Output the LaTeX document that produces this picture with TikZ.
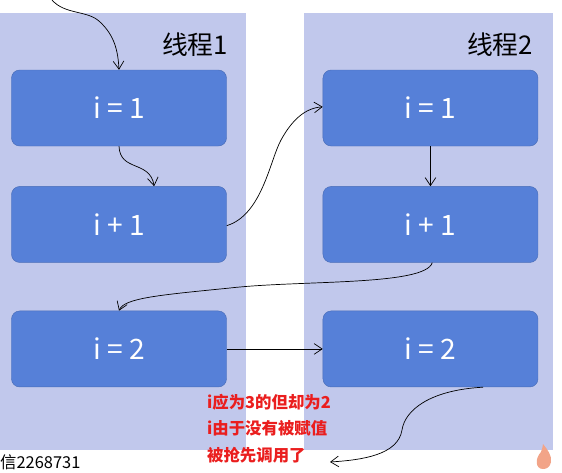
\documentclass[tikz,border=0pt]{standalone}
\usepackage{fontspec}
\newfontfamily\cjk{Noto Sans CJK SC}
\usetikzlibrary{positioning,arrows.meta}
\definecolor{panelbg}{RGB}{193,200,236}
\definecolor{boxblue}{RGB}{86,128,216}
\definecolor{notered}{RGB}{234,30,30}
\definecolor{flame}{RGB}{242,164,136}

\begin{document}
\begin{tikzpicture}[x=0.03cm, y=-0.03cm, node distance=1.2cm and 2.88cm, font=\cjk,
		stepbox/.style={rectangle, draw=boxblue!85!black, fill=boxblue, rounded corners=7pt, minimum width=6.45cm, minimum height=2.28cm, text=white, font=\cjk\fontsize{24}{28}\selectfont},
		flow/.style={-{Straight Barb[length=2.4mm, width=3.2mm]}, semithick, black}]
		\useasboundingbox (0,0) rectangle (562,472);
		\fill[panelbg] (0,13) rectangle (246,450);
		\fill[panelbg] (304,13) rectangle (553,450);
		\node[anchor=east, font=\cjk\fontsize{22}{26}\selectfont] (t1) at (232,45) {线程1};
		\node[anchor=east, font=\cjk\fontsize{22}{26}\selectfont] (t2) at (537,45) {线程2};
		\node[stepbox] (l1) at (119,108) {i = 1};
		\node[stepbox, below=of l1] (l2) {i + 1};
		\node[stepbox, below=1.44cm of l2] (l3) {i = 2};
		\node[stepbox, right=of l1] (r1) {i = 1};
		\node[stepbox, right=of l2] (r2) {i + 1};
		\node[stepbox, right=of l3] (r3) {i = 2};
		\coordinate (in) at (52,0);
		\coordinate (out) at (330,462);
		\draw[flow] (in) .. controls (65,15) and (88,10) .. (100,22) .. controls (114,35) and (118,50) .. (l1.north);
		\draw[flow] (l1.south) .. controls (120,172) and (150,160) .. ([xshift=30pt]l2.north);
		\draw[flow] ([yshift=-1pt]l2.east) .. controls (262,215) and (270,160) .. (281,140) .. controls (292,120) and (305,108) .. ([yshift=1pt]r1.west);
		\draw[flow] (r1.south) -- (r2.south |- r2.north);
		\draw[flow] ([xshift=1.5pt]r2.south) .. controls (425,286) and (300,280) .. (230,288) .. controls (160,295) and (124,298) .. (l3.north);
		\draw[flow] (l3.east) -- (r3.west);
		\draw[flow] ([xshift=45pt]r3.south) .. controls (430,390) and (405,410) .. (402,430) .. controls (398,455) and (362,460) .. (out);
		\node[anchor=north west, align=left, text=notered, font=\cjk\bfseries\fontsize{14}{22.5}\selectfont] (note) at (203,390) {i应为3的但却为2\\i由于没有被赋值\\被抢先调用了};
		\node[anchor=west, font=\cjk\fontsize{14}{16}\selectfont, inner sep=0pt] (mark) at (0,462) {信2268731};
		\fill[flame] (543,469) .. controls (535,469) and (535,458) .. (541,452) .. controls (543,449) and (542,446) .. (543,444) .. controls (547,449) and (552,455) .. (551,462) .. controls (550,467) and (547,469) .. (543,469) -- cycle;
\end{tikzpicture}
\end{document}
